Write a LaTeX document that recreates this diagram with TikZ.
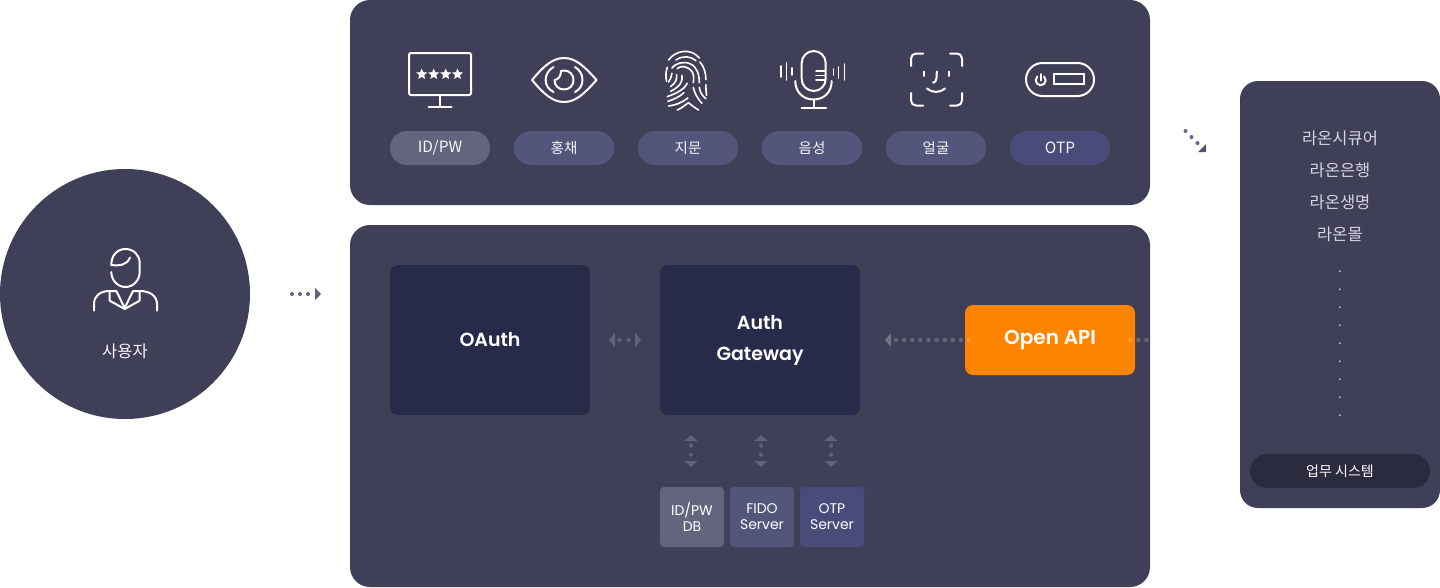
\documentclass[tikz,border=0pt]{standalone}
\usepackage{fontspec}
\setmainfont{Noto Sans CJK KR}
\newfontfamily\popsb{Poppins SemiBold}
\newfontfamily\pop{Poppins}
\usetikzlibrary{arrows.meta,shapes.geometric}
\definecolor{panel}{HTML}{3F4058}
\definecolor{navy}{HTML}{272A48}
\definecolor{orng}{HTML}{FF8500}
\definecolor{gA}{HTML}{63657F}
\definecolor{gB}{HTML}{53567A}
\definecolor{gC}{HTML}{494C79}
\definecolor{dotout}{HTML}{62637F}
\definecolor{dotin}{HTML}{606279}
\definecolor{listc}{HTML}{D4D5DD}
\definecolor{pilldark}{HTML}{2A2B3F}
\tikzset{
  panelbox/.style={rectangle,fill=panel,rounded corners=20pt,inner sep=0pt},
  pillbox/.style={rectangle,rounded corners=17pt,minimum width=100pt,minimum height=34pt,inner sep=0pt,text=white!92!gray,font=\fontsize{14.5}{17}\selectfont},
  pilllatin/.style={pillbox,font=\fontsize{15.5}{17}\selectfont},
  navybox/.style={rectangle,fill=navy,rounded corners=8pt,minimum width=200pt,minimum height=150pt,inner sep=0pt,text=white,align=center,font=\popsb\fontsize{19}{31}\selectfont},
  srvbox/.style={rectangle,rounded corners=4pt,minimum width=64pt,minimum height=60pt,inner sep=0pt,text=white,align=center,font=\pop\fontsize{14}{16}\selectfont},
  listtxt/.style={text=listc,inner sep=0pt,font=\fontsize{16.5}{20}\selectfont},
  icon/.style={draw=white,line width=2pt,line cap=round,line join=round},
  icont/.style={draw=white,line width=1.6pt,line cap=round,line join=round},
  star4/.style={star,star points=5,star point ratio=2.2,fill=white,minimum size=11.5pt,inner sep=0pt},
}
\begin{document}
\begin{tikzpicture}[x=1pt,y=-1pt]
\useasboundingbox (0,0) rectangle (1440,587);
\fill[white] (0,0) rectangle (1440,587);
% circle user
\node[circle,fill=panel,minimum size=250pt,inner sep=0pt] (user) at (125,294) {};
\node[text=white!92!gray,inner sep=0pt,font=\fontsize{16.5}{20}\selectfont] (userlabel) at (125,351) {사용자};
% panels
\node[panelbox,minimum width=800pt,minimum height=205pt] (top) at (750,102.5) {};
\node[panelbox,minimum width=800pt,minimum height=362pt] (bottom) at (750,406) {};
\node[panelbox,rounded corners=18pt,minimum width=200pt,minimum height=427pt] (right) at (1340,294.5) {};
% pills
\node[pilllatin,fill=gA] (p1) at (440,148) {ID/PW};
\node[pillbox,fill=gB] (p2) at (564,148) {홍채};
\node[pillbox,fill=gB] (p3) at (688,148) {지문};
\node[pillbox,fill=gB] (p4) at (812,148) {음성};
\node[pillbox,fill=gB] (p5) at (936,148) {얼굴};
\node[pilllatin,fill=gC] (p6) at (1060,148) {OTP};
% boxes
\node[navybox] (oauth) at (490,340) {OAuth};
\node[navybox] (gate) at (760,340) {Auth\\Gateway};
\node[rectangle,fill=orng,rounded corners=8pt,minimum width=170pt,minimum height=70pt,inner sep=0pt,text=white,font=\popsb\fontsize{20}{24}\selectfont] (api) at (1050,340) {Open API};
\node[srvbox,fill=gA] (s1) at (692,517) {ID/PW\\DB};
\node[srvbox,fill=gB] (s2) at (762,517) {FIDO\\Server};
\node[srvbox,fill=gC] (s3) at (832,517) {OTP\\Server};
% right list
\node[listtxt] (l1) at (1340,138) {라온시큐어};
\node[listtxt] (l2) at (1340,170) {라온은행};
\node[listtxt] (l3) at (1340,202) {라온생명};
\node[listtxt] (l4) at (1340,234) {라온몰};
\foreach \i/\yy in {1/272,2/290,3/308,4/326,5/344,6/362,7/380,8/398,9/416}
  \node[listtxt,font=\fontsize{13}{13}\selectfont] (d\i) at (1340,\yy) {.};
\node[rectangle,fill=pilldark,rounded corners=17pt,minimum width=180pt,minimum height=34pt,inner sep=0pt,text=white,font=\fontsize{14}{17}\selectfont] (work) at (1340,471) {업무 시스템};
% connector anchors
\coordinate (ua) at (292,294); \coordinate (ub) at (321,294);
\coordinate (oa) at (609,340); \coordinate (ob) at (641,340);
\coordinate (ga) at (969,340); \coordinate (gb) at (885,340);
\coordinate (ra) at (1130,340); \coordinate (rb) at (1150,340);
\coordinate (v1a) at (691,435); \coordinate (v1b) at (691,467);
\coordinate (v2a) at (761,435); \coordinate (v2b) at (761,467);
\coordinate (v3a) at (831,435); \coordinate (v3b) at (831,467);
\coordinate (da) at (1185.5,131); \coordinate (db) at (1198,143.6);
% connectors
\draw[dotout,line width=4pt,line cap=round,dash pattern=on 0pt off 8pt,-{Triangle[length=6pt,width=12pt]}] (ua) -- (ub);
\draw[dotin,line width=4pt,line cap=round,dash pattern=on 0pt off 9pt,dash phase=4pt,{Triangle[length=6pt,width=14pt]}-{Triangle[length=6pt,width=14pt]}] (oa) -- (ob);
\foreach \n in {1,2,3}
 \draw[dotin,line width=4pt,line cap=round,dash pattern=on 0pt off 9pt,dash phase=4pt,{Triangle[length=6pt,width=13pt]}-{Triangle[length=6pt,width=13pt]}] (v\n a) -- (v\n b);
\draw[white,opacity=.2,line width=4.4pt,line cap=round,dash pattern=on 0pt off 8.11pt,-{Triangle[length=6pt,width=14pt]}] (ga) -- (gb);
\draw[white,opacity=.2,line width=4.4pt,line cap=round,dash pattern=on 0pt off 8.2pt] (ra) -- (rb);
\draw[dotout,line width=4pt,line cap=round,dash pattern=on 0pt off 8.5pt] (da) -- (db);
\fill[panel!90!white] (1198,152) -- (1206,152) -- (1206,144) -- cycle;
% ICON monitor
\draw[icon,rounded corners=1.5pt] (409,53) rectangle (471,95);
\draw[icon] (440,95) -- (440,107) (428.5,107) -- (451.5,107);
\foreach \i/\xx in {1/421.7,2/433.7,3/445.7,4/457.5}
  \node[star4] (st\i) at (\xx,74.3) {};
% ICON eye
\draw[icon] (532,80) .. controls (543,67) and (552,58) .. (564,58) .. controls (576,58) and (585,67) .. (596.5,80) .. controls (585,93) and (576,102) .. (564,102) .. controls (552,102) and (543,93) .. (532,80) -- cycle;
\draw[icon] (553.5,67) .. controls (543,73) and (543,87) .. (553.5,92);
\draw[icon] (575,67) .. controls (585,73) and (585,87) .. (575,92);
\draw[icon] (561,71) .. controls (562,70.7) and (563,70.5) .. (564,70.5) .. controls (569.5,70.5) and (573.5,74.5) .. (573.5,80) .. controls (573.5,85.5) and (569.5,89.5) .. (564,89.5) .. controls (558.5,89.5) and (554.5,85.5) .. (554.5,80) .. controls (558.5,79.5) and (561,76) .. (561,71) -- cycle;
% ICON fingerprint
\begin{scope}[x=0.3333pt,y=-0.3333pt,shift={(1980,144)}]
\draw[icont] (26,36) .. controls (45,8) and (92,-2) .. (118,30);
\draw[icont] (48,36) .. controls (68,22) and (92,24) .. (108,38);
\draw[icont] (120,42) .. controls (132,55) and (138,75) .. (138,95);
\draw[icont] (22,58) .. controls (17,72) and (17,88) .. (20,100);
\draw[icont] (36,60) .. controls (46,46) and (72,38) .. (92,48) .. controls (112,58) and (118,80) .. (118,104);
\draw[icont] (36,76) .. controls (34,86) and (32,94) .. (26,102);
\draw[icont] (52,62) .. controls (62,50) and (86,56) .. (96,70) .. controls (102,80) and (102,92) .. (100,104);
\draw[icont] (50,80) .. controls (52,92) and (48,104) .. (32,116);
\draw[icont] (66,82) .. controls (70,100) and (60,116) .. (32,130);
\draw[icont] (82,106) .. controls (74,122) and (56,134) .. (22,146);
\draw[icont] (138,110) .. controls (138,122) and (138,132) .. (140,142);
\draw[icont] (118,118) .. controls (120,132) and (128,146) .. (138,152);
\draw[icont] (100,118) .. controls (104,136) and (112,150) .. (126,166);
\draw[icont] (72,134) .. controls (60,146) and (42,154) .. (24,160);
\draw[icont] (84,150) .. controls (66,164) and (46,172) .. (26,174);
\draw[icont] (52,186) .. controls (64,182) and (76,170) .. (86,164) .. controls (94,172) and (106,180) .. (116,186);
\end{scope}
% ICON mic
\node[rectangle,draw=white,line width=2pt,rounded corners=12pt,minimum width=24pt,minimum height=40pt,inner sep=0pt] (capsule) at (813.7,71) {};
\draw[icont] (816,70.7) -- (825.5,70.7) (816,75.3) -- (825.5,75.3) (816,80) -- (825.5,80);
\draw[icon] (795.3,81) .. controls (795.3,92) and (803,99.5) .. (813.5,99.5) .. controls (824,99.5) and (831.7,92) .. (831.7,81);
\draw[icon] (813.5,99.5) -- (813.5,107.5) (801.5,107.5) -- (826,107.5);
\draw[icont] (780.7,66) -- (780.7,77) (786.5,62.7) -- (786.5,80) (792,68) -- (792,75);
\draw[icont] (833.3,69) -- (833.3,75) (838.5,67) -- (838.5,78) (844.3,64) -- (844.3,80);
% ICON face
\draw[icon,rounded corners=5pt] (911,66) -- (911,53.5) -- (923,53.5);
\draw[icon,rounded corners=5pt] (950,53.5) -- (962,53.5) -- (962,66);
\draw[icon,rounded corners=5pt] (911,93) -- (911,105.5) -- (923,105.5);
\draw[icon,rounded corners=5pt] (950,105.5) -- (962,105.5) -- (962,93);
\draw[icon] (923.5,71.5) -- (923.5,76) (949,71.5) -- (949,76);
\draw[icon] (936.8,71.5) -- (936.5,78) .. controls (936.3,81) and (935,82.5) .. (933,82.7);
\draw[icon] (927,88.5) .. controls (932,93) and (940,93) .. (945,88.5);
% ICON otp
\node[rectangle,draw=white,line width=2pt,rounded corners=16.5pt,minimum width=68pt,minimum height=33pt,inner sep=0pt] (otpbody) at (1060,79.5) {};
\node[rectangle,draw=white,line width=2pt,minimum width=30pt,minimum height=10pt,inner sep=0pt] (otpslot) at (1068.7,79.3) {};
\draw[icon] (1037.3,76.5) .. controls (1036.2,77.5) and (1035.7,78.8) .. (1035.7,80.3) .. controls (1035.7,83) and (1038,85.3) .. (1040.7,85.3) .. controls (1043.4,85.3) and (1045.7,83) .. (1045.7,80.3) .. controls (1045.7,78.8) and (1045.2,77.5) .. (1044.1,76.5);
\draw[icon] (1040.7,74) -- (1040.7,80.5);
% ICON person
\draw[icon] (111.3,272) .. controls (111.3,280) and (117.5,287) .. (125.5,287) .. controls (133.5,287) and (139.7,280) .. (139.7,272) -- (139.7,263) .. controls (139.7,255) and (133.5,249) .. (125.5,249) .. controls (117.5,249) and (111.3,255) .. (111.3,265);
\draw[icon] (111.3,265) .. controls (120,266) and (127,265) .. (130,257.5);
\draw[icon] (94,310.5) -- (94,304) .. controls (94,296) and (100,291) .. (109.7,291) -- (116.3,291) -- (124.7,308) -- (133,291) -- (139.7,291) .. controls (150,291) and (157,296) .. (157,304) -- (157,310.5);
\draw[icon] (109.7,291) -- (109.7,300.7) -- (124.7,309) -- (139.7,300.7) -- (139.7,291);
\end{tikzpicture}
\end{document}
